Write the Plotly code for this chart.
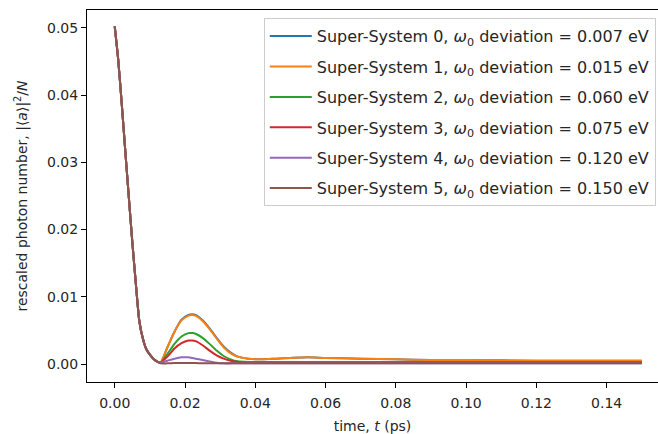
import plotly.graph_objects as go

# ---- data ----
t_decay = [0.0, 0.001, 0.002, 0.003, 0.004, 0.005, 0.006, 0.007, 0.008, 0.009,
           0.010, 0.011, 0.012]
v_decay = [0.0502, 0.0452, 0.0387, 0.0317, 0.0249, 0.0182, 0.0120, 0.0064, 0.0038,
           0.0022, 0.0014, 0.0008, 0.0004]

t_after = [0.013, 0.015, 0.017, 0.019, 0.021, 0.022, 0.023, 0.025, 0.027, 0.029,
           0.031, 0.033, 0.035, 0.038, 0.042, 0.046, 0.050, 0.055, 0.060, 0.070,
           0.080, 0.090, 0.100, 0.120, 0.150]

ss0 = [0.0002, 0.0025, 0.0048, 0.0066, 0.0073, 0.0074, 0.0073, 0.0065, 0.0053, 0.0039,
       0.0026, 0.0017, 0.0011, 0.0008, 0.0007, 0.0008, 0.0009, 0.0010, 0.0009, 0.0008,
       0.0007, 0.0006, 0.0006, 0.0005, 0.0005]
ss1 = [0.0002, 0.0025, 0.0048, 0.0065, 0.0072, 0.0073, 0.0072, 0.0064, 0.0052, 0.0038,
       0.0025, 0.0016, 0.0011, 0.0008, 0.0007, 0.0008, 0.0009, 0.0010, 0.0009, 0.0008,
       0.0007, 0.0006, 0.0006, 0.0005, 0.0005]
ss2 = [0.0002, 0.0015, 0.0030, 0.0041, 0.0046, 0.0046, 0.0045, 0.0039, 0.0030, 0.0020,
       0.0012, 0.0007, 0.0004, 0.0003, 0.0003, 0.0003, 0.0003, 0.0003, 0.0003, 0.0003,
       0.0003, 0.0003, 0.0003, 0.0003, 0.0003]
ss3 = [0.0002, 0.0011, 0.0023, 0.0031, 0.0035, 0.0035, 0.0034, 0.0028, 0.0020, 0.0013,
       0.0008, 0.0005, 0.0003, 0.0002, 0.0002, 0.0002, 0.0002, 0.0002, 0.0002, 0.0002,
       0.0002, 0.0002, 0.0002, 0.0002, 0.0002]
ss4 = [0.0002, 0.0005, 0.0008, 0.0010, 0.0010, 0.0009, 0.0008, 0.0006, 0.0004, 0.0002,
       0.0001, 0.0001, 0.0001, 0.0001, 0.0001, 0.0001, 0.0001, 0.0001, 0.0001, 0.0001,
       0.0001, 0.0001, 0.0001, 0.0001, 0.0001]
ss5 = [0.0001, 0.0001, 0.00015, 0.00015, 0.00015, 0.00015, 0.00015, 0.00012, 0.0001, 0.0001,
       0.0001, 0.0001, 0.0001, 0.0001, 0.0001, 0.0001, 0.0001, 0.0001, 0.0001, 0.0001,
       0.0001, 0.0001, 0.0001, 0.0001, 0.0001]

series = [ss0, ss1, ss2, ss3, ss4, ss5]
deviations = ["0.007", "0.015", "0.060", "0.075", "0.120", "0.150"]
colors = ["#1f77b4", "#ff7f0e", "#2ca02c", "#d62728", "#9467bd", "#8c564b"]

x_ticks = [0.00, 0.02, 0.04, 0.06, 0.08, 0.10, 0.12, 0.14]
y_ticks = [0.00, 0.01, 0.02, 0.03, 0.04, 0.05]

FONT = "DejaVu Sans"
TXT = "#262626"

fig = go.Figure()
for i, (vals, dev, col) in enumerate(zip(series, deviations, colors)):
    fig.add_trace(go.Scatter(
        x=t_decay + t_after,
        y=v_decay + vals,
        mode="lines",
        line=dict(color=col, width=2, shape="spline", smoothing=0.6),
        name=f"Super-System {i}, <i>ω</i><sub>0</sub> deviation = {dev} eV",
        legendgroup=f"g{i}",
    ))

fig.update_layout(
    width=658, height=434,
    margin=dict(l=87, r=0, t=10, b=52),
    paper_bgcolor="white", plot_bgcolor="white",
    font=dict(family=FONT, size=14, color=TXT),
    showlegend=True,
    legend=dict(
        x=0.3096, y=0.978, xanchor="left", yanchor="top",
        bgcolor="rgba(255,255,255,0.8)", bordercolor="#cccccc", borderwidth=1,
        font=dict(family=FONT, size=16, color=TXT),
        tracegroupgap=6.6, itemwidth=42,
    ),
    xaxis=dict(
        range=[-0.00789, 0.15461], tickvals=x_ticks, tickformat=".2f",
        showgrid=False, zeroline=False, automargin=False,
        showline=True, linecolor="black", linewidth=1, mirror=True,
        ticks="outside", ticklen=5, tickcolor="black", tickwidth=1,
        ticklabelstandoff=3,
        tickfont=dict(family=FONT, size=14, color=TXT),
        title=dict(text="time, <i>t</i> (ps)", standoff=12,
                   font=dict(family=FONT, size=14, color=TXT)),
    ),
    yaxis=dict(
        range=[-0.00267, 0.05265], tickvals=y_ticks, tickformat=".2f",
        showgrid=False, zeroline=False, automargin=False,
        showline=True, linecolor="black", linewidth=1, mirror=False,
        ticks="outside", ticklen=5, tickcolor="black", tickwidth=1,
        tickfont=dict(family=FONT, size=14, color=TXT),
        title=dict(text="rescaled photon number, |⟨<i>a</i>⟩|<sup>2</sup>/<i>N</i>", standoff=16,
                   font=dict(family=FONT, size=14, color=TXT)),
    ),
)

fig.write_html(
    "out.html",
    config={"displayModeBar": False},
    post_script="document.body.style.margin='0';document.body.style.overflow='hidden';",
)
